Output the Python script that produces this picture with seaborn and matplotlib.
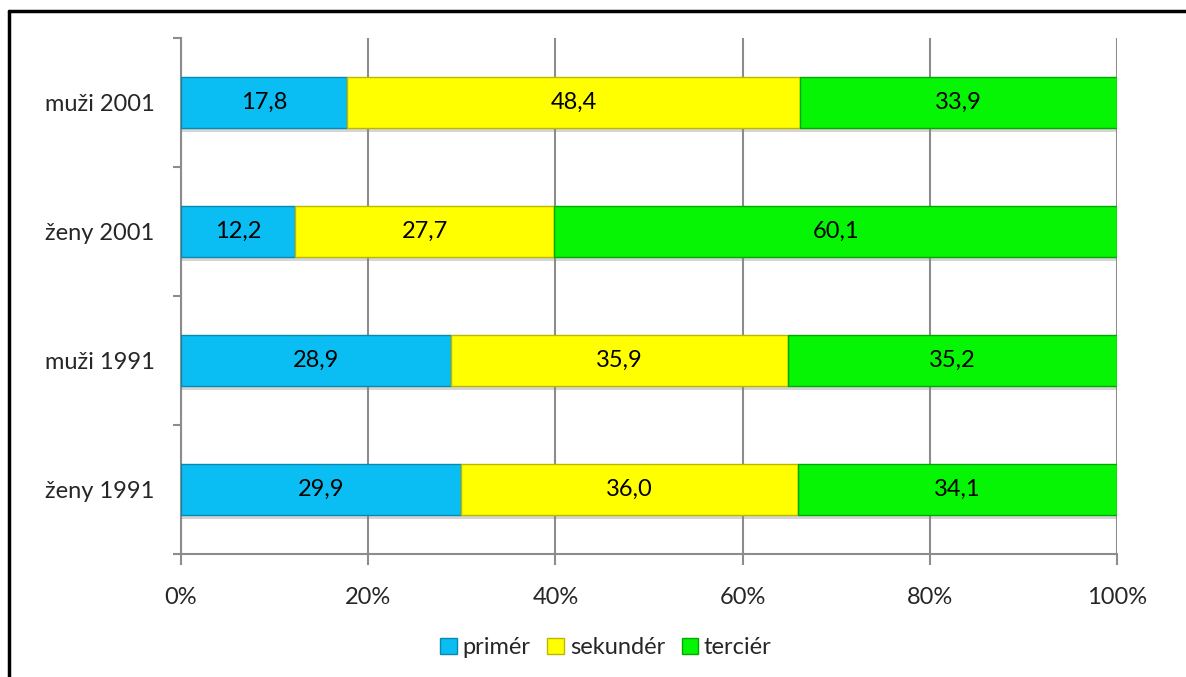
import numpy as np
import pandas as pd
import seaborn as sns
import matplotlib.pyplot as plt
import matplotlib.patheffects as pe
from matplotlib.patches import Patch
from matplotlib.lines import Line2D

# data
groups = ["muži 2001", "ženy 2001", "muži 1991", "ženy 1991"]
primer = [17.8, 12.2, 28.9, 29.9]
sekunder = [48.4, 27.7, 35.9, 36.0]
tercier = [33.9, 60.1, 35.2, 34.1]
series_names = ["primér", "sekundér", "terciér"]
colors = ["#0ABEF4", "#FFFF00", "#05F505"]
edge_colors = ["#0A88B0", "#B8B800", "#04A804"]

sns.set_theme(style="white")
plt.rcParams["font.family"] = ["Lato", "DejaVu Sans"]

vals = np.array([primer, sekunder, tercier])
pct = vals / vals.sum(axis=0) * 100  # 100% stacked

fig = plt.figure(figsize=(11.86, 6.77), dpi=100)
ax = fig.add_axes([0.1526, 0.1817, 0.7892, 0.7622])

left = np.zeros(len(groups))
for i, name in enumerate(series_names):
    df = pd.DataFrame({"group": groups, "value": pct[i]})
    sns.barplot(data=df, y="group", x="value", order=groups, orient="h",
                color=colors[i], saturation=1, width=0.4, left=left,
                edgecolor=edge_colors[i], linewidth=1.0, ax=ax, zorder=3)
    cont = ax.containers[-1]
    for bar in cont:
        bar.set_path_effects([pe.SimplePatchShadow(offset=(0, -3), shadow_rgbFace="#888888", alpha=0.35),
                              pe.Normal()])
    ax.bar_label(cont, labels=[f"{v:.1f}".replace(".", ",") for v in vals[i]],
                 label_type="center", fontsize=17, color="black")
    left = left + pct[i]

ax.set_xlim(0, 100)
ax.set_ylim(3.5, -0.5)
ax.set_xticks([0, 20, 40, 60, 80, 100])
ax.set_xticklabels(["0%", "20%", "40%", "60%", "80%", "100%"], fontsize=17)
ax.tick_params(axis="x", length=8, width=1.5, color="#8C8C8C", pad=16, bottom=True)
ax.tick_params(axis="y", which="major", length=0, pad=19, labelsize=17)
ax.set_yticks(np.arange(-0.5, 4.0, 1.0), minor=True)
ax.tick_params(axis="y", which="minor", length=6, width=1.5, color="#8C8C8C", left=True)
ax.set_xlabel("")
ax.set_ylabel("")
ax.grid(axis="x", color="#8C8C8C", linewidth=1.5, zorder=0)
ax.set_axisbelow(True)
for s in ["top", "right"]:
    ax.spines[s].set_visible(False)
for s in ["left", "bottom"]:
    ax.spines[s].set_color("#8C8C8C")
    ax.spines[s].set_linewidth(1.5)

handles = [Patch(facecolor=c, edgecolor=e, linewidth=1) for c, e in zip(colors, edge_colors)]
fig.legend(handles, series_names, loc="center", bbox_to_anchor=(0.511, 0.043), ncol=3,
           frameon=False, fontsize=17, handlelength=0.7, handleheight=0.7,
           handletextpad=0.25, columnspacing=0.7)

# outer frame (top and left edges visible)
fig.add_artist(Line2D([0.0075, 1.0], [0.9838, 0.9838], color="black", linewidth=2.5))
fig.add_artist(Line2D([0.0075, 0.0075], [0.0, 0.9838], color="black", linewidth=2.5))

plt.savefig("out.png", dpi=100)
